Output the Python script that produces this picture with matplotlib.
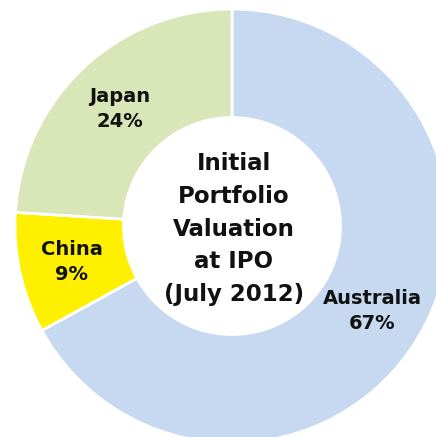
import matplotlib
matplotlib.use("Agg")
import matplotlib.pyplot as plt

# portfolio split at IPO
countries = ["Australia", "China", "Japan"]
shares = [67, 9, 24]
colors = ["#C6D9F0", "#FFF000", "#D8E6B8"]
center_title = "Initial\nPortfolio\nValuation\nat IPO\n(July 2012)"

fig = plt.figure(figsize=(4.36, 4.37), dpi=100)
ax = fig.add_axes([0, 0, 1, 1])

wedges, _ = ax.pie(shares, colors=colors, startangle=90, counterclock=False,
                   radius=1.0, wedgeprops=dict(width=0.5, edgecolor="white", linewidth=2))

# place the ring the way it sits in the picture (partly cropped right/bottom)
px = 217.0
cx, cy = 232.0, 226.0
ax.set_xlim(-cx / px, (436 - cx) / px)
ax.set_ylim(-(437 - cy) / px, cy / px)
ax.set_aspect("auto")
ax.axis("off")

font = dict(fontweight="bold", fontsize=14, ha="center", va="center", color="#111111")

def to_data(x, y):
    return (x - cx) / px, (cy - y) / px

label_pos = {"Australia": (372, 311), "China": (72, 262), "Japan": (120, 109)}
for name, val in zip(countries, shares):
    x, y = to_data(*label_pos[name])
    ax.text(x, y, f"{name}\n{val}%", linespacing=1.45, **font)

x, y = to_data(234, 229)
ax.text(x, y, center_title, fontweight="bold", fontsize=16.5, ha="center", va="center",
        linespacing=1.55, color="#111111")

fig.savefig("out.png", dpi=100)
